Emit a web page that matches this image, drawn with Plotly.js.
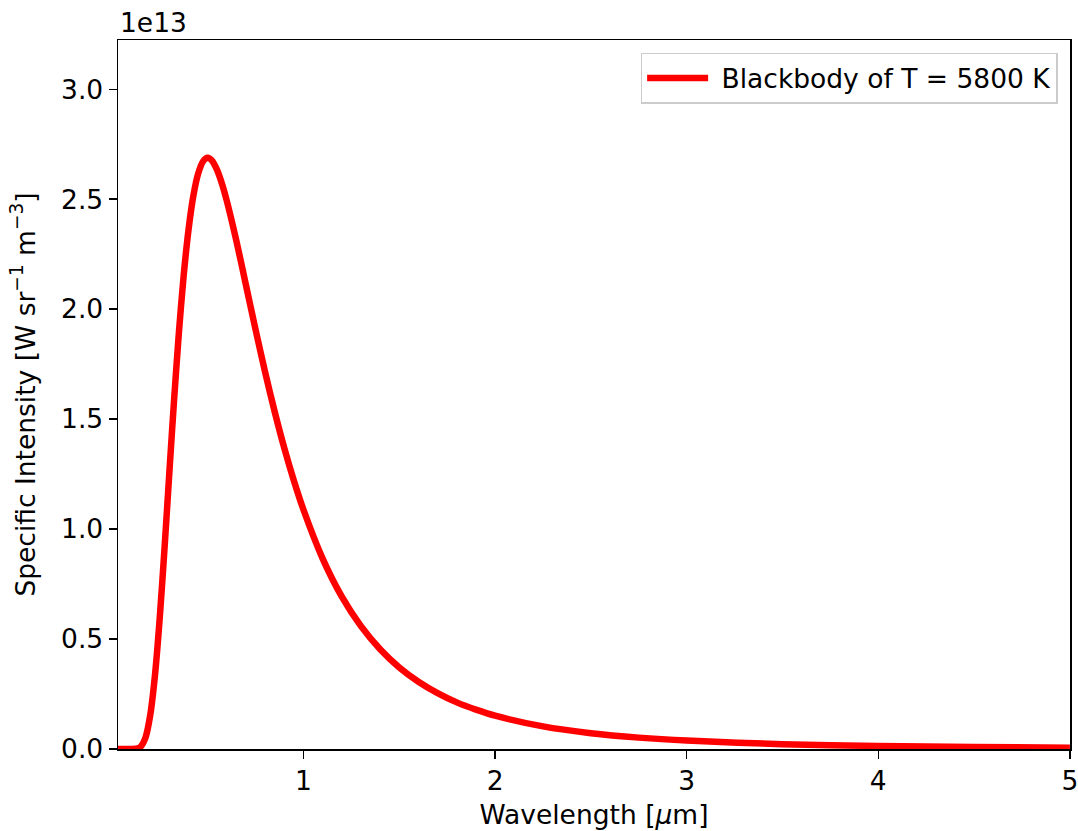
<!DOCTYPE html>
<html>
<head>
<meta charset="utf-8">
<script src="https://cdn.plot.ly/plotly-3.0.1.min.js"></script>
<style>html,body{margin:0;padding:0;background:#fff;}#chart{width:1078px;height:831px;}</style>
</head>
<body>
<div id="chart"></div>
<script>
// Wavelength in micrometres
const wavelength = [0.032, 0.08, 0.1, 0.125, 0.135, 0.15, 0.175, 0.2, 0.225, 0.25, 0.275, 0.3, 0.325, 0.35, 0.375, 0.4, 0.425, 0.45, 0.475, 0.49, 0.5, 0.51, 0.525, 0.55, 0.575, 0.6, 0.65, 0.7, 0.75, 0.8, 0.85, 0.9, 0.95, 1.0, 1.1, 1.2, 1.3, 1.4, 1.5, 1.6, 1.7, 1.8, 1.9, 2.0, 2.25, 2.5, 2.75, 3.0, 3.5, 4.0, 4.5, 5.0];
// Specific intensity in units of 1e13 W sr^-1 m^-3
const intensity_e13 = [0, 0, 0.00002, 0.0009, 0.0028, 0.0103, 0.0507, 0.153, 0.336, 0.598, 0.915, 1.257, 1.591, 1.896, 2.155, 2.361, 2.514, 2.615, 2.671, 2.685, 2.688, 2.685, 2.673, 2.631, 2.569, 2.492, 2.310, 2.109, 1.907, 1.713, 1.533, 1.368, 1.220, 1.088, 0.866, 0.693, 0.559, 0.454, 0.371, 0.306, 0.254, 0.212, 0.179, 0.1515, 0.1027, 0.0719, 0.0517, 0.0381, 0.0220, 0.0135, 0.0088, 0.0059];
const yTicks = [0, 0.5, 1.0, 1.5, 2.0, 2.5, 3.0];
const xTicks = [1, 2, 3, 4, 5];
const seriesName = "Blackbody of T = 5800 K";

const font = {family: "DejaVu Sans, sans-serif", size: 26.5, color: "#000"};
const trace = {
  x: wavelength, y: intensity_e13, type: "scatter", mode: "lines",
  name: "\u00a0" + seriesName,
  line: {color: "#ff0000", width: 6.5, shape: "spline", smoothing: 0.8}
};
const layout = {
  width: 1078, height: 831,
  margin: {l: 118, r: 8, t: 40, b: 82},
  paper_bgcolor: "#fff", plot_bgcolor: "#fff",
  font: font,
  showlegend: true,
  legend: {x: 0.987, y: 0.982, xanchor: "right", yanchor: "top",
    bgcolor: "rgba(255,255,255,0.8)", bordercolor: "#cccccc", borderwidth: 1.5,
    font: font, itemwidth: 61},
  xaxis: {
    range: [0.032, 5.0005], tickvals: xTicks, ticktext: xTicks.map(String),
    ticks: "outside", ticklen: 8, tickwidth: 1.5, tickcolor: "#000",
    showline: true, linecolor: "#000", linewidth: 1.5, mirror: true,
    showgrid: false, zeroline: false, ticklabeloverflow: "allow",
    tickfont: font,
    title: {text: "Wavelength [<i>μ</i>m]", font: font, standoff: 10}
  },
  yaxis: {
    range: [0, 3.224], tickvals: yTicks, ticktext: yTicks.map(v => v.toFixed(1)),
    ticks: "outside", ticklen: 8, tickwidth: 1.5, tickcolor: "#000",
    showline: true, linecolor: "#000", linewidth: 1.5, mirror: true,
    showgrid: false, zeroline: false,
    tickfont: font,
    title: {text: "Specific Intensity [W sr<sup>−1</sup> m<sup>−3</sup>]", font: font, standoff: 18}
  },
  annotations: [{
    text: "1e13", xref: "paper", yref: "paper", x: 0, y: 1, xanchor: "left", yanchor: "bottom",
    showarrow: false, font: font, yshift: 0
  }]
};
Plotly.newPlot("chart", [trace], layout, {staticPlot: true, displayModeBar: false});
</script>
</body>
</html>
